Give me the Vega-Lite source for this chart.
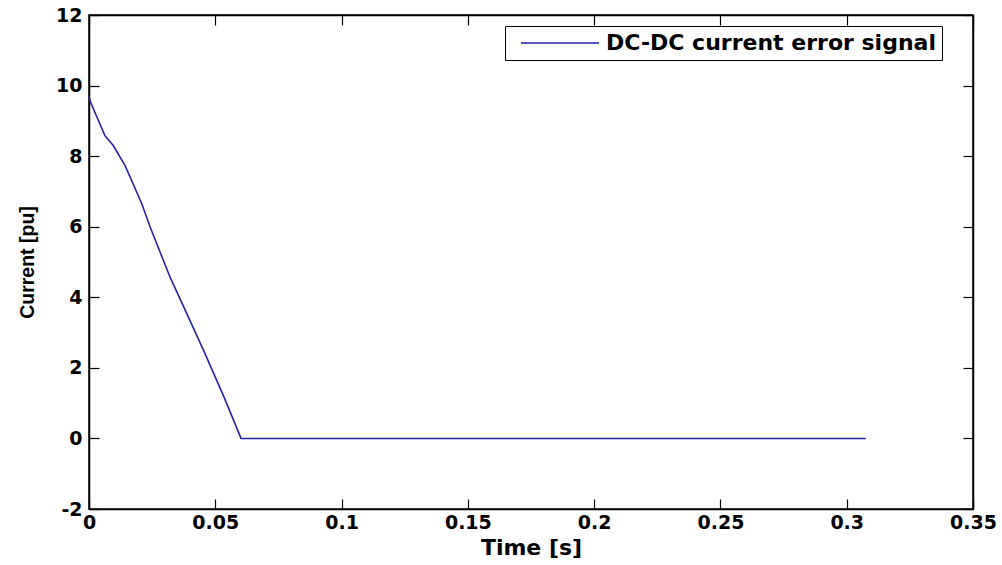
{
  "$schema": "https://vega.github.io/schema/vega-lite/v6.json",
  "width": 884,
  "height": 494,
  "autosize": "none",
  "padding": {"left": 89, "top": 15, "right": 29, "bottom": 56},
  "background": "white",
  "config": {
    "view": {"stroke": "black", "strokeWidth": 1.5},
    "font": "DejaVu Sans",
    "axis": {
      "grid": false,
      "domainColor": "black",
      "domainWidth": 1.5,
      "tickColor": "black",
      "tickWidth": 1.2,
      "tickSize": -10,
      "labelFont": "DejaVu Sans",
      "labelFontWeight": "bold",
      "labelFontSize": 19,
      "labelColor": "black",
      "titleFont": "DejaVu Sans",
      "titleFontWeight": "bold",
      "titleFontSize": 22,
      "titleColor": "black"
    }
  },
  "data": {
    "values": [
      {"t": 0, "current": 9.72, "series": "DC-DC current error signal"},
      {"t": 0.0005, "current": 9.55, "series": "DC-DC current error signal"},
      {"t": 0.0063, "current": 8.58, "series": "DC-DC current error signal"},
      {"t": 0.0096, "current": 8.3, "series": "DC-DC current error signal"},
      {"t": 0.0143, "current": 7.73, "series": "DC-DC current error signal"},
      {"t": 0.0209, "current": 6.65, "series": "DC-DC current error signal"},
      {"t": 0.0242, "current": 5.99, "series": "DC-DC current error signal"},
      {"t": 0.0321, "current": 4.57, "series": "DC-DC current error signal"},
      {"t": 0.0361, "current": 3.95, "series": "DC-DC current error signal"},
      {"t": 0.0454, "current": 2.49, "series": "DC-DC current error signal"},
      {"t": 0.0533, "current": 1.2, "series": "DC-DC current error signal"},
      {"t": 0.0602, "current": 0, "series": "DC-DC current error signal"},
      {"t": 0.3075, "current": 0, "series": "DC-DC current error signal"}
    ]
  },
  "layer": [
    {
      "mark": {"type": "line", "strokeWidth": 1.6, "interpolate": "linear"},
      "encoding": {
        "x": {
          "field": "t",
          "type": "quantitative",
          "scale": {"domain": [0, 0.35], "nice": false, "zero": false},
          "axis": {
            "values": [0, 0.05, 0.1, 0.15, 0.2, 0.25, 0.3, 0.35],
            "format": "~g",
            "title": "Time [s]",
            "labelPadding": 14,
            "titlePadding": 5,
            "labelFlush": false
          }
        },
        "y": {
          "field": "current",
          "type": "quantitative",
          "scale": {"domain": [-2, 12], "nice": false, "zero": false},
          "axis": {
            "values": [-2, 0, 2, 4, 6, 8, 10, 12],
            "labelExpr": "'' + datum.value",
            "title": "Current [pu]",
            "titleFont": "Liberation Sans",
            "titleFontSize": 19.5,
            "labelPadding": 17,
            "titlePadding": 18
          }
        },
        "color": {
          "field": "series",
          "type": "nominal",
          "scale": {"range": ["#2323a3"]},
          "legend": {
            "title": null,
            "orient": "none",
            "legendX": 416,
            "legendY": 11,
            "symbolType": "stroke",
            "symbolSize": 6084,
            "symbolStrokeWidth": 1.5,
            "symbolOffset": 9,
            "clipHeight": 22,
            "labelFont": "DejaVu Sans",
            "labelFontWeight": "bold",
            "labelFontSize": 22,
            "labelColor": "black",
            "labelLimit": 500,
            "strokeColor": "black",
            "fillColor": "white",
            "padding": 6,
            "labelOffset": 6
          }
        }
      }
    },
    {
      "mark": {"type": "line", "opacity": 0},
      "encoding": {
        "x": {
          "field": "t",
          "type": "quantitative",
          "axis": {
            "orient": "top",
            "values": [0, 0.05, 0.1, 0.15, 0.2, 0.25, 0.3, 0.35],
            "labels": false,
            "title": null
          }
        },
        "y": {
          "field": "current",
          "type": "quantitative",
          "axis": {
            "orient": "right",
            "values": [-2, 0, 2, 4, 6, 8, 10, 12],
            "labels": false,
            "title": null
          }
        }
      }
    }
  ],
  "resolve": {"axis": {"x": "independent", "y": "independent"}}
}
